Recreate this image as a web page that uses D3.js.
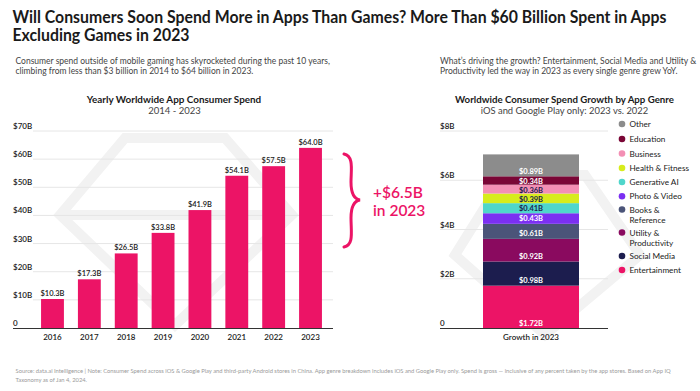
<!DOCTYPE html>
<html><head><meta charset="utf-8">
<script src="https://cdn.jsdelivr.net/npm/d3@7"></script>
<style>
body{margin:0;background:#fff;}
svg{display:block;font-family:"Lato","Inter",sans-serif;}
</style></head>
<body><svg id="c" width="700" height="391"></svg>
<script>
const years = ["2016","2017","2018","2019","2020","2021","2022","2023"];
const spend = [10.3,17.3,26.5,33.8,41.9,54.1,57.5,64.0];
const leftTicks = [0,10,20,30,40,50,60,70];
const genres = ["Entertainment","Social Media","Utility & Productivity","Books & Reference","Photo & Video","Generative AI","Health & Fitness","Business","Education","Other"];
const growth = [1.72,0.98,0.92,0.61,0.43,0.41,0.39,0.36,0.34,0.89];
const genreColors = ["#ec1466","#1c1d4e","#8a0a5f","#4b5479","#7b2ff2","#4fd6cb","#d7ec1c","#f38fb4","#7a0636","#8c8c8c"];
const darkLabel = ["Generative AI","Health & Fitness","Business"];
const rightTicks = [0,2,4,6,8];

const svg = d3.select("#c");
const pink = "#ec1466";
const ink = "#1a1a1a";

// watermark
const wm = svg.append("g").attr("fill","none").attr("stroke","#f2f2f2").attr("stroke-width",10).attr("stroke-linejoin","miter");
wm.append("path").attr("d","M60,215 L125,138 L225,138 L292,215 L175,325 Z M60,215 L292,215");
wm.append("path").attr("d","M455,255 L505,175 L585,175 L640,255 L545,335 Z");

// Title
const title = svg.append("text").attr("font-weight",700).attr("font-size",16.6).attr("fill",ink);
title.append("tspan").attr("x",12.5).attr("y",22.5).attr("textLength",654).attr("lengthAdjust","spacingAndGlyphs")
  .text("Will Consumers Soon Spend More in Apps Than Games? More Than $60 Billion Spent in Apps");
title.append("tspan").attr("x",12.5).attr("y",40.5).attr("textLength",177).attr("lengthAdjust","spacingAndGlyphs")
  .text("Excluding Games in 2023");

const sub = svg.append("g").attr("font-size",8.5).attr("fill","#444");
sub.append("text").attr("x",15.5).attr("y",63.5).text("Consumer spend outside of mobile gaming has skyrocketed during the past 10 years,");
sub.append("text").attr("x",15.5).attr("y",73.8).text("climbing from less than $3 billion in 2014 to $64 billion in 2023.");
sub.append("text").attr("x",440).attr("y",63.5).text("What\u2019s driving the growth? Entertainment, Social Media and Utility &");
sub.append("text").attr("x",440).attr("y",73.8).text("Productivity led the way in 2023 as every single genre grew YoY.");

// Left chart
const x = d3.scaleBand().domain(years).range([30,333]).paddingInner(0.38).paddingOuter(0.3);
const y = d3.scaleLinear().domain([0,70]).range([328,131]);

svg.append("text").attr("x",174).attr("y",102.5).attr("text-anchor","middle").attr("font-weight",700).attr("font-size",9.9).attr("fill",ink).text("Yearly Worldwide App Consumer Spend");
svg.append("text").attr("x",174.5).attr("y",113.5).attr("text-anchor","middle").attr("font-size",9.5).attr("fill","#444").text("2014 - 2023");

const gl = svg.append("g");
gl.selectAll("line").data(leftTicks.filter(d=>d>0)).join("line")
  .attr("x1",33).attr("x2",333).attr("y1",d=>y(d)).attr("y2",d=>y(d))
  .attr("stroke","#e6e6e6").attr("stroke-width",1);
gl.selectAll("text").data(leftTicks).join("text")
  .attr("x",13).attr("y",d=>y(d)-2).attr("font-size",8).attr("font-weight",600).attr("fill",ink)
  .text(d=>d===0?"0":"$"+d+"B");

svg.append("g").selectAll("rect").data(spend).join("rect")
  .attr("x",(d,i)=>x(years[i])).attr("width",x.bandwidth())
  .attr("y",d=>y(d)).attr("height",d=>y(0)-y(d)).attr("fill",pink);
svg.append("g").selectAll("text").data(spend).join("text")
  .attr("x",(d,i)=>x(years[i])+x.bandwidth()/2).attr("y",d=>y(d)-3)
  .attr("text-anchor","middle").attr("font-size",7.5).attr("font-weight",600).attr("fill",ink)
  .text(d=>"$"+d.toFixed(1)+"B");

svg.append("line").attr("x1",13).attr("x2",333).attr("y1",328.5).attr("y2",328.5).attr("stroke","#333").attr("stroke-width",1);
svg.append("g").selectAll("text").data(years).join("text")
  .attr("x",d=>x(d)+x.bandwidth()/2).attr("y",339.5).attr("text-anchor","middle")
  .attr("font-size",8).attr("font-weight",600).attr("fill",ink).text(d=>d);

// brace
svg.append("path").attr("d","M344,154 C354,156 351,170 351,182 C351,194 354,199 360,200 C354,201 351,206 351,218 C351,232 354,245 344,247")
  .attr("fill","none").attr("stroke",pink).attr("stroke-width",3).attr("stroke-linecap","round");
const bt = svg.append("text").attr("font-size",15.5).attr("font-weight",600).attr("fill",pink);
bt.append("tspan").attr("x",373).attr("y",198).text("+$6.5B");
bt.append("tspan").attr("x",373).attr("y",216).text("in 2023");

// Right chart
svg.append("text").attr("x",564.5).attr("y",102.5).attr("text-anchor","middle").attr("font-weight",700).attr("font-size",9.7).attr("fill",ink).text("Worldwide Consumer Spend Growth by App Genre");
svg.append("text").attr("x",564.5).attr("y",113.5).attr("text-anchor","middle").attr("font-size",9.4).attr("fill","#444").text("iOS and Google Play only: 2023 vs. 2022");

const y2 = d3.scaleLinear().domain([0,8]).range([328,131]);
const x2 = d3.scaleBand().domain(["Growth in 2023"]).range([435,627]).paddingInner(0).paddingOuter(0.5);

const gr = svg.append("g");
gr.selectAll("line").data(rightTicks.filter(d=>d>0)).join("line")
  .attr("x1",440).attr("x2",608).attr("y1",d=>y2(d)).attr("y2",d=>y2(d))
  .attr("stroke","#e6e6e6");
gr.selectAll("text").data(rightTicks).join("text")
  .attr("x",440).attr("y",d=>y2(d)-2).attr("font-size",8).attr("font-weight",600).attr("fill",ink)
  .text(d=>d===0?"0":"$"+d+"B");

const cum = d3.cumsum(growth);
const segs = growth.map((v,i)=>({name:genres[i],v,y0:cum[i]-v,y1:cum[i],color:genreColors[i]}));
const bx = x2("Growth in 2023"), bw = x2.bandwidth();
svg.append("g").selectAll("rect").data(segs).join("rect")
  .attr("x",bx).attr("width",bw).attr("y",d=>y2(d.y1)).attr("height",d=>y2(d.y0)-y2(d.y1)).attr("fill",d=>d.color);
svg.append("g").selectAll("text").data(segs).join("text")
  .attr("x",bx+bw/2).attr("y",d=>Math.max(y2(d.y0)-2.5, y2(d.y1)+8))
  .attr("text-anchor","middle").attr("font-size",7.5).attr("font-weight",700)
  .attr("fill",d=>darkLabel.includes(d.name)?"#1c1d4e":"#fff")
  .text(d=>"$"+d.v.toFixed(2)+"B");

svg.append("line").attr("x1",440).attr("x2",608).attr("y1",328.5).attr("y2",328.5).attr("stroke","#333");
svg.append("text").attr("x",bx+bw/2).attr("y",339.5).attr("text-anchor","middle").attr("font-size",8).attr("font-weight",600).attr("fill",ink).text("Growth in 2023");

// legend (top to bottom: reverse order)
const legendItems = genres.map((g,i)=>({g,c:genreColors[i]})).reverse();
const legendY = [124,139,153.5,168,182,196.3,209.5,232.5,256,270];
const lg = svg.append("g");
legendItems.forEach((d,i)=>{
  const yy = legendY[i];
  lg.append("circle").attr("cx",622).attr("cy",yy).attr("r",3.3).attr("fill",d.c);
  const parts = d.g==="Books & Reference"?["Books &","Reference"]: d.g==="Utility & Productivity"?["Utility &","Productivity"]:[d.g];
  parts.forEach((p,j)=>{
    lg.append("text").attr("x",629.5).attr("y",yy+3+j*10.5).attr("font-size",8.2).attr("fill",ink).text(p);
  });
});

// footer
const ft = svg.append("g").attr("font-size",5.8).attr("fill","#9a9a9a");
ft.append("text").attr("x",15.5).attr("y",373)
  .text("Source: data.ai Intelligence | Note: Consumer Spend across iOS & Google Play and third-party Android stores in China. App genre breakdown includes iOS and Google Play only. Spend is gross \u2014 inclusive of any percent taken by the app stores. Based on App IQ");
ft.append("text").attr("x",15.5).attr("y",381.5).text("Taxonomy as of Jan 4, 2024.");
</script></body></html>
